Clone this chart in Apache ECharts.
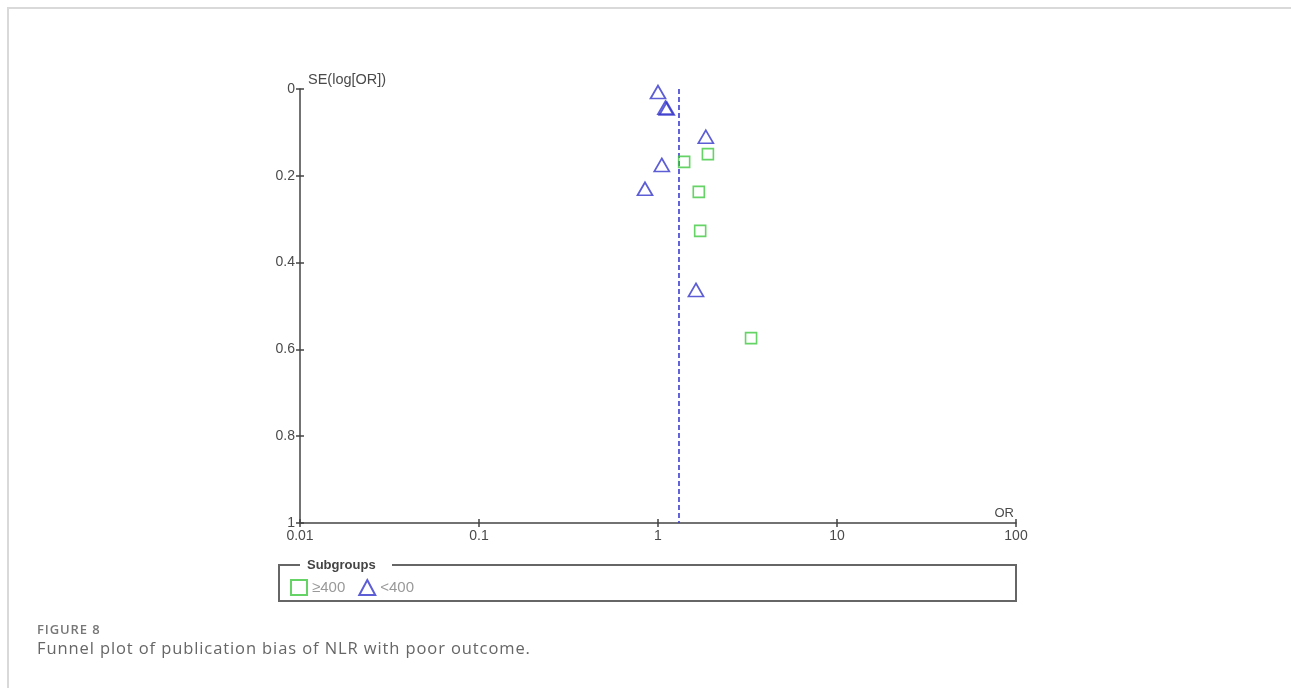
<!DOCTYPE html>
<html>
<head>
<meta charset="utf-8">
<script src="https://cdn.jsdelivr.net/npm/echarts@6/dist/echarts.min.js"></script>
<style>
  html, body { margin:0; padding:0; background:#fff; }
  #frame { position:absolute; left:7px; top:7px; width:1290px; height:700px; border-left:2px solid #d9d9d9; border-top:2px solid #d9d9d9; }
  #chart { position:absolute; left:0; top:0; width:1291px; height:688px; }
  #cap1 { position:absolute; left:37px; top:620px; font-family:"Open Sans", sans-serif; font-size:13px; font-weight:600; color:#777; letter-spacing:0.9px; }
  #cap2 { position:absolute; left:37px; top:636px; font-family:"Open Sans", sans-serif; font-size:16.5px; color:#666; letter-spacing:0.9px; }
</style>
</head>
<body>
<div id="frame"></div>
<div id="chart"></div>
<div id="cap1">FIGURE 8</div>
<div id="cap2">Funnel plot of publication bias of NLR with poor outcome.</div>
<script>
// Data
const groupNames = ['≥400', '<400'];
const squareOR = [1.40, 1.90, 1.69, 1.72, 3.31];
const squareSE = [0.168, 0.150, 0.237, 0.327, 0.574];
const triangleOR = [1.00, 1.10, 1.12, 1.85, 1.05, 0.846, 1.63];
const triangleSE = [0.007, 0.043, 0.045, 0.110, 0.175, 0.230, 0.463];
const pooledOR = 1.31;
const xTicks = [0.01, 0.1, 1, 10, 100];
const yTicks = [0, 0.2, 0.4, 0.6, 0.8, 1];

const chart = echarts.init(document.getElementById('chart'));
const axisColor = '#444';
const labelFont = { color:'#4a4a4a', fontSize:14, fontFamily:'Liberation Sans, Arial, sans-serif' };

const baseX = {
  type:'log', logBase:10, min:xTicks[0], max:xTicks[xTicks.length-1],
  splitLine:{show:false}, minorTick:{show:false}
};
const baseY = {
  type:'value', inverse:true, min:yTicks[0], max:yTicks[yTicks.length-1], interval:0.2,
  splitLine:{show:false}
};

chart.setOption({
  animation:false,
  grid:{ left:300, right:275, top:89, bottom:165 },
  xAxis:[
    Object.assign({}, baseX, {
      position:'bottom',
      name:'OR', nameLocation:'end', nameGap:-2,
      nameTextStyle:Object.assign({}, labelFont, {fontSize:13, align:'right', verticalAlign:'bottom', padding:[0,0,3,0]}),
      axisLine:{ show:true, onZero:false, lineStyle:{ color:axisColor, width:1.5 } },
      axisTick:{ show:true, inside:false, length:4, lineStyle:{ color:axisColor, width:1.5 } },
      axisLabel:Object.assign({}, labelFont, { margin:6, formatter:v => String(v) })
    }),
    Object.assign({}, baseX, {
      position:'bottom',
      axisLine:{ show:false, onZero:false },
      axisTick:{ show:true, inside:true, length:4, lineStyle:{ color:axisColor, width:1.5 } },
      axisLabel:{ show:false }
    })
  ],
  yAxis:[
    Object.assign({}, baseY, {
      position:'left',
      name:'SE(log[OR])', nameLocation:'start', nameGap:2,
      nameTextStyle:Object.assign({}, labelFont, {fontSize:14.5, align:'left', verticalAlign:'bottom', padding:[0,0,0,8]}),
      axisLine:{ show:true, onZero:false, lineStyle:{ color:axisColor, width:1.5 } },
      axisTick:{ show:true, inside:false, length:4, lineStyle:{ color:axisColor, width:1.5 } },
      axisLabel:Object.assign({}, labelFont, { margin:5, formatter:v => String(+v.toFixed(1)) })
    }),
    Object.assign({}, baseY, {
      position:'left',
      axisLine:{ show:false, onZero:false },
      axisTick:{ show:true, inside:true, length:4, lineStyle:{ color:axisColor, width:1.5 } },
      axisLabel:{ show:false }
    })
  ],
  legend:{
    left:285, top:574, itemWidth:16, itemHeight:15, itemGap:13,
    textStyle:{ color:'#999', fontSize:15, fontFamily:'Liberation Sans, Arial, sans-serif', padding:[2,0,0,0] },
    data:groupNames
  },
  graphic:[
    { type:'rect', shape:{ x:279, y:565, width:737, height:36 }, style:{ fill:'none', stroke:'#666', lineWidth:2 }, z:-1 },
    { type:'rect', shape:{ x:300, y:558, width:92, height:14 }, style:{ fill:'#fff' }, z:0 },
    { type:'text', x:307, y:565, style:{ text:'Subgroups', fill:'#444', font:'bold 13px "Liberation Sans", Arial, sans-serif', verticalAlign:'middle' }, z:1 }
  ],
  series:[
    {
      name:groupNames[0], type:'scatter', symbol:'rect', symbolSize:11,
      itemStyle:{ color:'rgba(255,255,255,0)', borderColor:'#3fc83f', borderWidth:1.6 },
      data:squareOR.map((v,i) => [v, squareSE[i]]), z:3
    },
    {
      name:groupNames[1], type:'scatter', symbol:'triangle', symbolSize:[15,13],
      itemStyle:{ color:'rgba(255,255,255,0)', borderColor:'#3434cc', borderWidth:1.7 },
      data:triangleOR.map((v,i) => [v, triangleSE[i]]), z:3
    },
    {
      name:'pooled', type:'line', symbol:'none', silent:true,
      lineStyle:{ color:'#3c3cd2', width:1.6, type:[5,3] },
      data:[[pooledOR, yTicks[0]], [pooledOR, yTicks[yTicks.length-1]]], z:2
    }
  ]
});
</script>
</body>
</html>
